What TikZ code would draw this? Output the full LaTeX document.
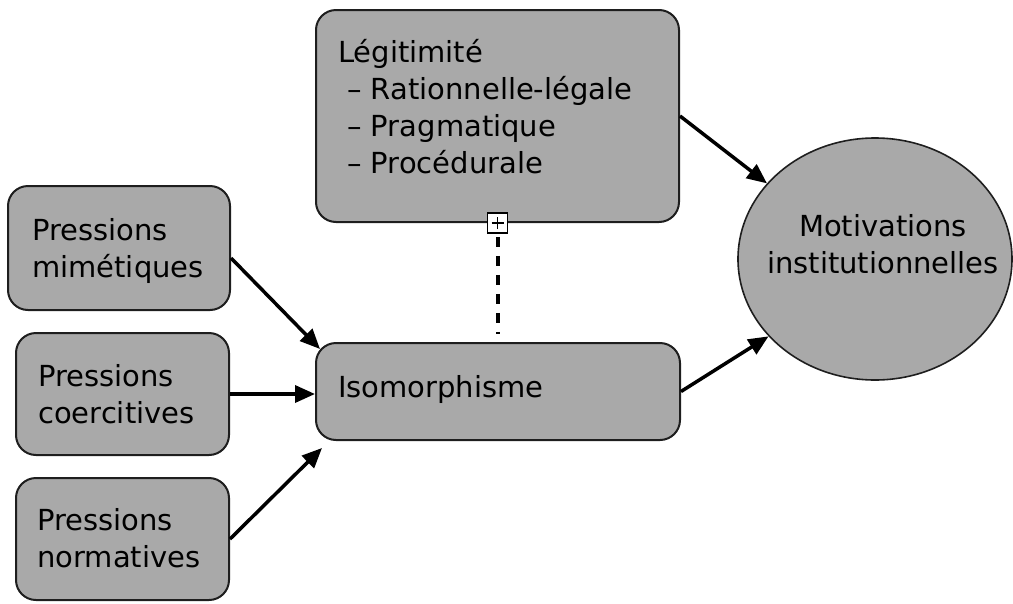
\documentclass[tikz,border=0pt]{standalone}
\usepackage{fontspec}
\setmainfont{DejaVu Sans}
\usetikzlibrary{arrows.meta,shapes.geometric}
\definecolor{boxgray}{RGB}{169,169,169}
\definecolor{inkline}{RGB}{30,30,30}
\begin{document}
\begin{tikzpicture}[x=1pt,y=-1pt,
  box/.style={draw=inkline,line width=2pt,fill=boxgray,rounded corners=20pt,inner sep=0pt},
  txt/.style={font=\fontsize{29}{37}\selectfont,inner sep=0pt,text=black},
  flow/.style={line width=3.5pt,draw=black,-{Triangle[length=20pt,width=17pt]}}]
\useasboundingbox (0,0) rectangle (1013,603);

% boxes
\node[box,minimum width=363pt,minimum height=212pt] (leg) at (497.5,116) {};
\node[box,minimum width=364pt,minimum height=97pt] (iso) at (498,391.5) {};
\node[box,minimum width=222pt,minimum height=124pt] (mim) at (119,248) {};
\node[box,minimum width=213pt,minimum height=122pt] (coe) at (122.5,394) {};
\node[box,minimum width=213pt,minimum height=122pt] (nor) at (122.5,539) {};
\node[ellipse,draw=inkline,line width=1.6pt,fill=boxgray,minimum width=274pt,minimum height=242pt,inner sep=0pt] (mot) at (875,259) {};

% labels (multi-line nodes are anchored on the baseline of their last line)
\node[txt,align=left,anchor=base west] (legtxt) at (338,173)
  {Légitimité\\\hspace*{9pt}– Rationnelle-légale\\\hspace*{9pt}– Pragmatique\\\hspace*{9pt}– Procédurale};
\node[txt,anchor=base west] (isotxt) at (338,397) {Isomorphisme};
\node[txt,align=left,anchor=base west] (mimtxt) at (32,277) {Pressions\\mimétiques};
\node[txt,align=left,anchor=base west] (coetxt) at (38,423) {Pressions\\coercitives};
\node[txt,align=left,anchor=base west] (nortxt) at (37,567) {Pressions\\normatives};
\node[txt,align=center,anchor=base] (mottxt) at (883,273) {Motivations\\institutionnelles};

% expand marker and dotted link
\node[draw=black,line width=1.5pt,fill=white,minimum size=20pt,inner sep=0pt] (plus) at (leg.south) {};
\draw[line width=1.5pt] ([xshift=-6pt]plus.center) -- ([xshift=6pt]plus.center)
  ([yshift=-6pt]plus.center) -- ([yshift=6pt]plus.center);
\draw[line width=4pt,dash pattern=on 10pt off 9pt,dash phase=-3pt,shorten >=8pt]
  (plus.south) -- (plus.south |- iso.north);

% arrows
\draw[flow] (leg.east) -- (mot.145);
\draw[flow] (iso.east) -- (mot.216);
\draw[flow] ([yshift=-10pt]mim.east) -- ([shift={(5,7)}]iso.north west);
\draw[flow] (coe.east) -- (coe.east -| iso.west);
\draw[flow] (nor.east) -- ([shift={(7,7)}]iso.south west);
\end{tikzpicture}
\end{document}
